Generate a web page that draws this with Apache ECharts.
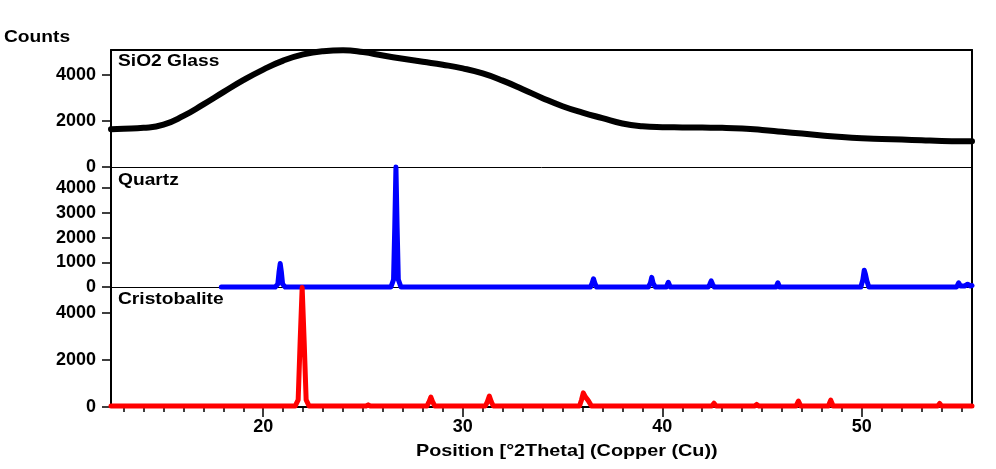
<!DOCTYPE html>
<html><head><meta charset="utf-8">
<script src="https://cdn.jsdelivr.net/npm/echarts@6/dist/echarts.min.js"></script>
<style>html,body{margin:0;padding:0;background:#fff}#c{width:996px;height:469px}</style>
</head><body><div id="c"></div>
<script>
// ---- data ----
const glassTheta  = [12.37,13,14,15,16,17,18,19,20,21,22,23,24,25,26,27,28,29,30,31,32,33,34,35,36,37,38,39,40,41,42,43,44,45,46,47,48,49,50,51,52,53,54,55,55.52];
const glassCounts = [1640,1660,1700,1840,2220,2720,3250,3770,4230,4620,4890,5030,5070,4990,4840,4700,4570,4440,4280,4060,3750,3380,2990,2640,2360,2120,1890,1770,1730,1720,1710,1700,1670,1610,1530,1450,1370,1300,1250,1220,1190,1160,1130,1120,1120];

const quartzTheta  = [17.9,20.6,20.73,20.79,20.85,20.91,20.97,21.1,26.4,26.53,26.59,26.65,26.71,26.77,26.9,36.4,36.48,36.55,36.62,36.7,39.3,39.4,39.47,39.54,39.65,40.2,40.3,40.4,42.3,42.38,42.45,42.52,42.6,45.7,45.79,45.88,49.95,50.05,50.12,50.18,50.25,50.35,54.75,54.85,54.95,55.15,55.3,55.45,55.52];
const quartzCounts = [0,0,120,600,950,600,120,0,0,300,2400,4860,2400,300,0,0,150,330,150,0,0,150,390,150,0,0,190,0,0,110,250,110,0,0,170,0,0,300,680,520,250,0,0,170,40,40,110,40,60];

const cristTheta  = [12.37,21.6,21.75,21.85,21.95,22.05,22.15,22.3,25.15,25.26,25.37,28.2,28.3,28.4,28.5,28.6,31.13,31.23,31.33,31.43,31.53,35.85,35.95,36.04,36.15,36.28,36.45,42.48,42.59,42.7,44.62,44.73,44.84,46.7,46.82,46.94,48.32,48.44,48.56,51.7,51.8,51.9,52.48,52.58,52.68,53.8,53.9,54.0,55.52];
const cristCounts = [40,40,300,2800,5080,2800,300,40,40,90,40,40,200,420,200,40,40,220,460,220,40,40,300,600,420,280,40,40,160,40,40,110,40,40,250,40,40,290,40,40,70,40,40,90,40,40,150,40,40];

const panelNames   = ['SiO2 Glass', 'Quartz', 'Cristobalite'];
const xTickLabels  = [20, 30, 40, 50];
const xMinorTicks  = [13,14,15,16,17,18,19,20,21,22,23,24,25,26,27,28,29,30,31,32,33,34,35,36,37,38,39,40,41,42,43,44,45,46,47,48,49,50,51,52,53,54,55];
const yTicksGlass  = [0, 2000, 4000];
const yTicksQuartz = [0, 1000, 2000, 3000, 4000];
const yTicksCrist  = [0, 2000, 4000];
const yMax = [5080, 4860, 5100];

const XMIN = 12.37, XMAX = 55.52;
const FONT = '"Liberation Sans", Arial, sans-serif';

function pairs(xs, ys){ return xs.map((x,i)=>[x, ys[i]]); }

const grids = [
  {left:111, right:24, top:50, height:117},
  {left:111, right:24, top:167, height:120},
  {left:111, right:24, top:287, height:120}
];

function hiddenX(gi, pos, lw){
  return {type:'value', gridIndex:gi, position:pos, min:XMIN, max:XMAX,
    axisLine:{show:true, onZero:false, lineStyle:{color:'#000', width:lw}},
    axisTick:{show:false}, axisLabel:{show:false}, splitLine:{show:false}};
}
const xAxes = [
  hiddenX(0,'bottom',1),
  hiddenX(0,'top',2),
  hiddenX(1,'bottom',1),
  {type:'value', gridIndex:2, position:'bottom', min:XMIN, max:XMAX,
    axisLine:{show:true, onZero:false, lineStyle:{color:'#000', width:2}},
    axisTick:{show:true, length:5, customValues:xMinorTicks, lineStyle:{color:'#000', width:1.5}},
    axisLabel:{show:false}, splitLine:{show:false}},
  {type:'value', gridIndex:2, position:'bottom', min:XMIN, max:XMAX,
    axisLine:{show:false, onZero:false},
    axisTick:{show:true, length:10, customValues:xTickLabels, lineStyle:{color:'#000', width:1.5}},
    axisLabel:{show:true, customValues:xTickLabels, margin:11, color:'#000', fontWeight:'bold', fontSize:18, fontFamily:FONT,
      formatter:v=>String(v)},
    splitLine:{show:false}}
];

const yTickSets = [yTicksGlass, yTicksQuartz, yTicksCrist];
const yAxes = [];
for (let i=0;i<3;i++){
  yAxes.push({type:'value', gridIndex:i, position:'left', min:0, max:yMax[i],
    axisLine:{show:true, onZero:false, lineStyle:{color:'#000', width:2}},
    axisTick:{show:true, length:9, customValues:yTickSets[i], lineStyle:{color:'#000', width:1.5}},
    axisLabel:{show:true, customValues:yTickSets[i], margin:15, color:'#000', fontWeight:'bold', fontSize:18, fontFamily:FONT,
      formatter:v=>String(v)},
    splitLine:{show:false}});
}
for (let i=0;i<3;i++){
  yAxes.push({type:'value', gridIndex:i, position:'right', min:0, max:1,
    axisLine:{show:true, onZero:false, lineStyle:{color:'#000', width:2}},
    axisTick:{show:false}, axisLabel:{show:false}, splitLine:{show:false}});
}

function lineSeries(data, xi, yi, color, w){
  return {type:'line', data:data, xAxisIndex:xi, yAxisIndex:yi, showSymbol:false, symbol:'none',
    clip:false, smooth:false, lineStyle:{color:color, width:w, cap:'round', join:'round'}, silent:true};
}
const series = [
  Object.assign(lineSeries(pairs(glassTheta, glassCounts), 0, 0, '#000000', 6), {smooth:0.5}),
  lineSeries(pairs(quartzTheta, quartzCounts), 2, 1, '#0000ff', 5),
  lineSeries(pairs(cristTheta, cristCounts), 3, 2, '#ff0000', 5)
];

function label(text, x, y, align, size){
  return {type:'text', x:x, y:y, scaleX:1.2, z:100,
    style:{text:text, fill:'#000', font:'bold '+size+'px '+FONT,
      align:align, verticalAlign:'middle', textAlign:align, textVerticalAlign:'middle'}};
}
const graphics = [
  label('Counts', 4, 38, 'left', 16),
  label(panelNames[0], 118, 62, 'left', 16),
  label(panelNames[1], 118, 181, 'left', 16),
  label(panelNames[2], 118, 300, 'left', 16),
  label('Position [°2Theta] (Copper (Cu))', 416, 451, 'left', 16.5)
];

const chart = echarts.init(document.getElementById('c'), null, {renderer:'canvas'});
chart.setOption({
  animation:false,
  backgroundColor:'#fff',
  grid:grids,
  xAxis:xAxes,
  yAxis:yAxes,
  series:series,
  graphic:graphics
});
</script>
</body></html>
